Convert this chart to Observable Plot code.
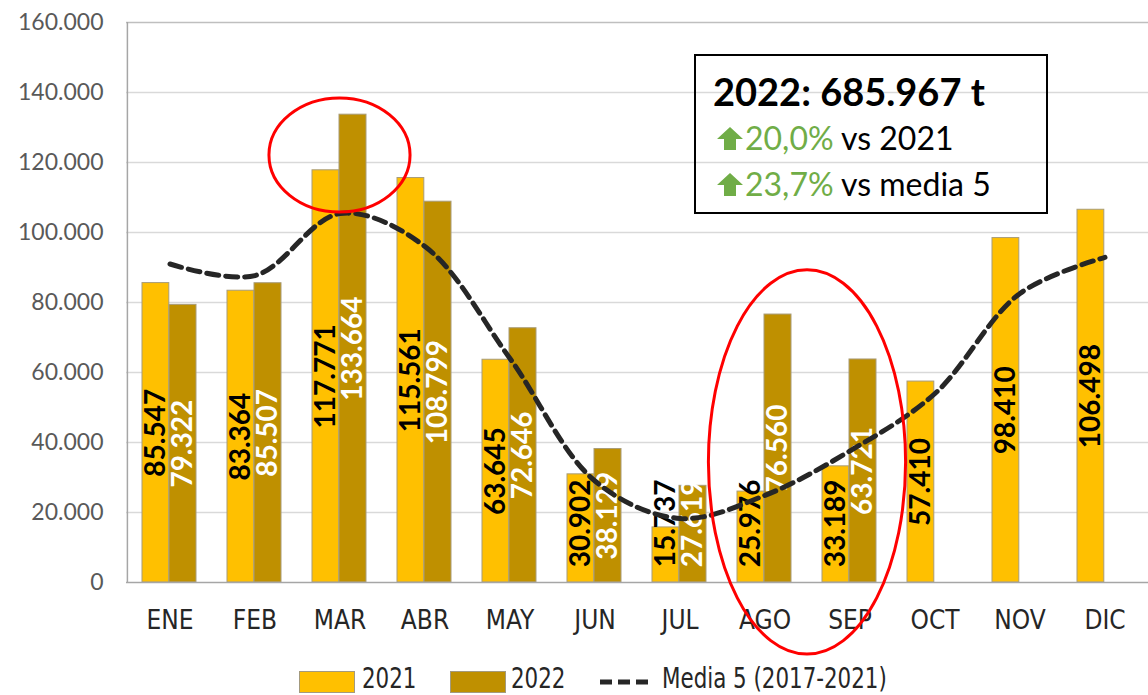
<!DOCTYPE html>
<html><head><meta charset="utf-8">
<script src="https://cdn.jsdelivr.net/npm/d3@7"></script>
<script src="https://cdn.jsdelivr.net/npm/@observablehq/plot@0.6"></script>
<style>
body{margin:0;background:#fff;}
#wrap{position:relative;width:1148px;height:695px;overflow:hidden;font-family:Lato,sans-serif;}
#chart svg{display:block;}
#chart svg [aria-label^="x-axis"] text{font-family:"Liberation Sans Narrow","DejaVu Sans Condensed",sans-serif;font-size:26px;fill:#262626;}
#chart svg [aria-label^="y-axis"] text{font-family:Lato,sans-serif;font-size:23px;fill:#595959;}
.legend{position:absolute;left:0;top:660px;width:1148px;height:35px;font-family:"Liberation Sans Narrow","DejaVu Sans Condensed",sans-serif;font-size:29px;color:#262626;}
.legend .sw{position:absolute;top:11px;width:56px;height:22px;box-sizing:border-box;border:1px solid #a39a7e;}
.legend .tx{position:absolute;top:2px;line-height:33px;white-space:nowrap;transform:scaleX(0.82);transform-origin:0 50%;}
.box{position:absolute;left:694px;top:54px;width:354px;height:160px;box-sizing:border-box;border:2px solid #000;}
</style></head><body>
<div id="wrap"><div id="chart"></div></div>
<script>
// ---- data ----
const months = ["ENE","FEB","MAR","ABR","MAY","JUN","JUL","AGO","SEP","OCT","NOV","DIC"];
const values2021 = [85547,83364,117771,115561,63645,30902,15737,25976,33189,57410,98410,106498];
const values2022 = [79322,85507,133664,108799,72646,38129,27619,76560,63721];
const media5 = [91000,87700,105400,96000,64000,29000,18300,24900,37600,54000,82600,92900];
const yTicks = [0,20000,40000,60000,80000,100000,120000,140000,160000];
const seriesNames = ["2021","2022"];
const seriesColors = ["#FFC000","#BF9000"];
const labelColors = ["#000000","#ffffff"];
const mediaName = "Media 5 (2017-2021)";
const summaryTitle = "2022: 685.967 t";
const summaryLines = [["20,0%"," vs 2021"],["23,7%"," vs media 5"]];
// annotation ellipses: between month centers, center value, vertical radius (value), horizontal radius (bands)
const ellipses = [
  {from:"MAR", to:"MAR", cy:122000, ry:16300, rxBands:0.83},
  {from:"AGO", to:"SEP", cy:34300, ry:54900, rxBands:1.16}
];

const loc = d3.formatLocale({decimal:",", thousands:".", grouping:[3], currency:["",""]});
const fmt = loc.format(",");

const bars2021 = months.map((m,i)=>({month:m, value:values2021[i]}));
const bars2022 = values2022.map((v,i)=>({month:months[i], value:v}));
const lineData = months.map((m,i)=>({month:m, value:media5[i]}));
const minLabelCenter = 16900;

const W = 1148, H = 660;
const plot = Plot.plot({
  width: W, height: H,
  marginTop: 22, marginBottom: 78, marginLeft: 126, marginRight: 0,
  style: {background:"transparent", overflow:"visible"},
  x: {domain: months, padding: 0, label: null, tickSize: 0, tickPadding: 28},
  y: {domain: [0,160000], ticks: yTicks, tickFormat: d => fmt(d), label: null, tickSize: 0, tickPadding: 23},
  marks: [
    Plot.ruleY(yTicks.filter(t => t > 0 && t < 160000), {stroke:"#d9d9d9", strokeWidth:1.5}),
    Plot.ruleY([160000], {stroke:"#bfbfbf", strokeWidth:1.5}),
    Plot.barY(bars2021, {x:"month", y:"value", fill:seriesColors[0], stroke:"#a89c78", strokeWidth:1, insetLeft:15, insetRight:43.2}),
    Plot.barY(bars2022, {x:"month", y:"value", fill:seriesColors[1], stroke:"#a89c78", strokeWidth:1, insetLeft:42, insetRight:16}),
    Plot.text(bars2021, {x:"month", y: d => Math.max(d.value/2, minLabelCenter), text: d => fmt(d.value), rotate:-90, dx:-14, fill:labelColors[0], fontFamily:"Lato", fontWeight:"bold", fontSize:28}),
    Plot.text(bars2022, {x:"month", y: d => Math.max(d.value/2, minLabelCenter), text: d => fmt(d.value), rotate:-90, dx:13, fill:labelColors[1], fontFamily:"Lato", fontWeight:"bold", fontSize:28}),
    Plot.ruleY([0], {stroke:"#a6a6a6", strokeWidth:1.5}),
    Plot.ruleX([months[0]], {x: () => months[0], dx:-42.6, stroke:"#a6a6a6", strokeWidth:1.5}),
    Plot.line(lineData, {x:"month", y:"value", curve:"catmull-rom", stroke:"#262626", strokeWidth:5, strokeDasharray:"12,7"})
  ]
});
document.getElementById("chart").appendChild(plot);

// ellipses drawn with the plot's own scales
const xs = plot.scale("x"), ys = plot.scale("y");
const xApply = xs.apply ? (v => xs.apply(v)) : (v => xs.range[0] + xs.domain.indexOf(v)*(xs.range[1]-xs.range[0])/xs.domain.length);
const yApply = ys.apply ? (v => ys.apply(v)) : (v => ys.range[0] + (v-ys.domain[0])/(ys.domain[1]-ys.domain[0])*(ys.range[1]-ys.range[0]));
const bw = xs.bandwidth != null ? xs.bandwidth : (xs.range[1]-xs.range[0])/xs.domain.length;
const svg = d3.select(plot);
for (const e of ellipses) {
  const cx = (xApply(e.from) + xApply(e.to))/2 + bw/2;
  const cy = yApply(e.cy);
  const ry = Math.abs(yApply(e.cy + e.ry) - cy);
  svg.append("ellipse").attr("cx", cx).attr("cy", cy).attr("rx", e.rxBands*bw).attr("ry", ry)
    .attr("fill","none").attr("stroke","#ff0000").attr("stroke-width",3);
}

// summary box
const wrap = document.getElementById("wrap");
const box = document.createElement("div");
box.className = "box";
wrap.appendChild(box);
const bsvg = d3.select(box).append("svg").attr("width",354).attr("height",160).style("position","absolute").style("left","-2px").style("top","-2px");
bsvg.append("text").attr("x",19).attr("y",52).attr("font-family","Lato").attr("font-weight","bold").attr("font-size",38).attr("fill","#000").text(summaryTitle);
summaryLines.forEach((ln, i) => {
  const by = 96 + i*46;
  const g = bsvg.append("g").attr("transform", `translate(23,${by})`);
  g.append("path").attr("d","M13,-23 L26,-11 L19,-11 L19,0 L7,0 L7,-11 L0,-11 Z").attr("fill","#70AD47");
  const t = g.append("text").attr("x",28).attr("y",0).attr("font-family","Lato").attr("font-size",32);
  t.append("tspan").attr("fill","#70AD47").text(ln[0]);
  t.append("tspan").attr("fill","#000").text(ln[1]);
});

// legend
const legend = document.createElement("div");
legend.className = "legend";
legend.innerHTML = `
  <div class="sw" style="left:299px;background:${seriesColors[0]}"></div>
  <div class="tx" style="left:362px">${seriesNames[0]}</div>
  <div class="sw" style="left:450px;background:${seriesColors[1]}"></div>
  <div class="tx" style="left:511px">${seriesNames[1]}</div>
  <svg style="position:absolute;left:598px;top:12px" width="58" height="20"><line x1="2" y1="10" x2="56" y2="10" stroke="#262626" stroke-width="5" stroke-dasharray="12,6"/></svg>
  <div class="tx" style="left:662px">${mediaName}</div>`;
wrap.appendChild(legend);
</script>
</body></html>
